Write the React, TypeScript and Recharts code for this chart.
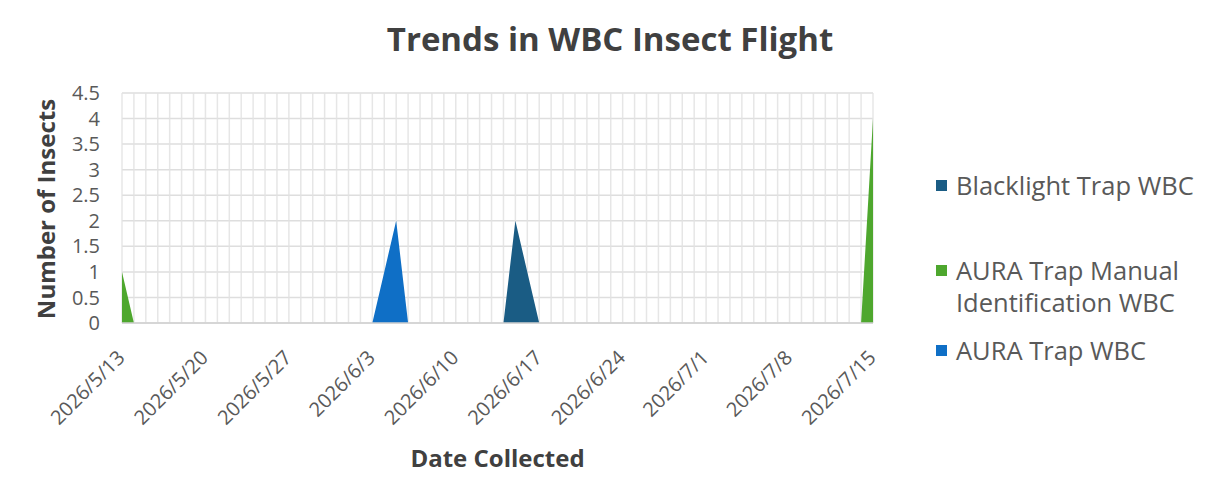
import React from "react";
import { AreaChart, Area, XAxis, YAxis, CartesianGrid, Legend, Label } from "recharts";

const FONT = '"Open Sans", sans-serif';

// one row per collection day, 2026/5/13 .. 2026/7/15
const dates = [
  "2026/5/13", "2026/5/14", "2026/5/15", "2026/5/16", "2026/5/17", "2026/5/18", "2026/5/19",
  "2026/5/20", "2026/5/21", "2026/5/22", "2026/5/23", "2026/5/24", "2026/5/25", "2026/5/26",
  "2026/5/27", "2026/5/28", "2026/5/29", "2026/5/30", "2026/5/31", "2026/6/1", "2026/6/2",
  "2026/6/3", "2026/6/4", "2026/6/5", "2026/6/6", "2026/6/7", "2026/6/8", "2026/6/9",
  "2026/6/10", "2026/6/11", "2026/6/12", "2026/6/13", "2026/6/14", "2026/6/15", "2026/6/16",
  "2026/6/17", "2026/6/18", "2026/6/19", "2026/6/20", "2026/6/21", "2026/6/22", "2026/6/23",
  "2026/6/24", "2026/6/25", "2026/6/26", "2026/6/27", "2026/6/28", "2026/6/29", "2026/6/30",
  "2026/7/1", "2026/7/2", "2026/7/3", "2026/7/4", "2026/7/5", "2026/7/6", "2026/7/7",
  "2026/7/8", "2026/7/9", "2026/7/10", "2026/7/11", "2026/7/12", "2026/7/13", "2026/7/14",
  "2026/7/15",
];

const blacklight = [
  0, 0, 0, 0, 0, 0, 0,
  0, 0, 0, 0, 0, 0, 0,
  0, 0, 0, 0, 0, 0, 0,
  0, 0, 0, 0, 0, 0, 0,
  0, 0, 0, 0, 0, 2, 1,
  0, 0, 0, 0, 0, 0, 0,
  0, 0, 0, 0, 0, 0, 0,
  0, 0, 0, 0, 0, 0, 0,
  0, 0, 0, 0, 0, 0, 0,
  0,
];

const auraManual = [
  1, 0, 0, 0, 0, 0, 0,
  0, 0, 0, 0, 0, 0, 0,
  0, 0, 0, 0, 0, 0, 0,
  0, 0, 0, 0, 0, 0, 0,
  0, 0, 0, 0, 0, 0, 0,
  0, 0, 0, 0, 0, 0, 0,
  0, 0, 0, 0, 0, 0, 0,
  0, 0, 0, 0, 0, 0, 0,
  0, 0, 0, 0, 0, 0, 0,
  4,
];

const auraTrap = [
  0, 0, 0, 0, 0, 0, 0,
  0, 0, 0, 0, 0, 0, 0,
  0, 0, 0, 0, 0, 0, 0,
  0, 1, 2, 0, 0, 0, 0,
  0, 0, 0, 0, 0, 0, 0,
  0, 0, 0, 0, 0, 0, 0,
  0, 0, 0, 0, 0, 0, 0,
  0, 0, 0, 0, 0, 0, 0,
  0, 0, 0, 0, 0, 0, 0,
  0,
];

const yTicks = [0, 0.5, 1, 1.5, 2, 2.5, 3, 3.5, 4, 4.5];

const seriesNames = ["Blacklight Trap WBC", "AURA Trap Manual Identification WBC", "AURA Trap WBC"];
const seriesColors = ["#1a5c84", "#4ea72e", "#0f6fc6"];

const data = dates.map((date, i) => ({
  date,
  blacklight: blacklight[i],
  auraManual: auraManual[i],
  auraTrap: auraTrap[i],
}));

// label only every 7th day
const DateTick = (props: any) => {
  const { x, y, payload, index } = props;
  if (index % 7 !== 0) return <g />;
  const ax = x + 4;
  const ay = y + 34;
  return (
    <text
      x={ax}
      y={ay}
      transform={`rotate(-45 ${ax} ${ay})`}
      textAnchor="end"
      fill="#595959"
      fontSize={20}
      fontFamily={FONT}
    >
      {payload.value}
    </text>
  );
};

const legendGaps = [0, 53, 16];

const renderLegend = () => (
  <div style={{ fontFamily: FONT, fontSize: 25.5, color: "#595959", lineHeight: "32px" }}>
    {seriesNames.map((name, i) => (
      <div key={name} style={{ display: "flex", alignItems: "flex-start", marginTop: legendGaps[i] }}>
        <span
          style={{
            display: "inline-block",
            width: 11,
            height: 11,
            background: seriesColors[i],
            marginTop: 11,
            marginRight: 9,
            flex: "none",
          }}
        />
        <span style={{ width: 255 }}>{name}</span>
      </div>
    ))}
  </div>
);

export default function App() {
  return (
    <div style={{ position: "absolute", left: 0, top: 0, width: 1225, height: 500, background: "#fff" }}>
      <div
        style={{
          position: "absolute",
          left: 0,
          top: 20,
          width: 1220,
          textAlign: "center",
          fontFamily: FONT,
          fontWeight: 700,
          fontSize: 33,
          lineHeight: "38px",
          color: "#404040",
        }}
      >
        Trends in WBC Insect Flight
      </div>
      <AreaChart
        width={1225}
        height={500}
        data={data}
        margin={{ top: 93, right: 352, bottom: 57, left: 32 }}
        style={{ fontFamily: FONT }}
      >
        <CartesianGrid vertical={false} stroke="#dedede" strokeWidth={1.5} />
        <XAxis
          dataKey="date"
          interval={0}
          height={120}
          tickLine={false}
          tickSize={0}
          axisLine={{ stroke: "#d0d0d0", strokeWidth: 1.5 }}
          tick={<DateTick />}
        >
          <Label
            content={(p: any) => {
              const vb = p.viewBox;
              return (
                <text
                  x={vb.x + vb.width / 2}
                  y={vb.y + 144}
                  textAnchor="middle"
                  fontFamily={FONT}
                  fontWeight={700}
                  fontSize={24}
                  fill="#404040"
                >
                  Date Collected
                </text>
              );
            }}
          />
        </XAxis>
        <YAxis
          width={90}
          domain={[0, 4.5]}
          ticks={yTicks}
          interval={0}
          tickLine={false}
          axisLine={false}
          tickSize={0}
          tickMargin={22}
          tick={{ fill: "#595959", fontSize: 20, fontFamily: FONT }}
        >
          <Label
            content={(p: any) => {
              const vb = p.viewBox;
              const cx = vb.x + 13;
              const cy = vb.y + vb.height / 2 + 1;
              return (
                <text
                  x={cx}
                  y={cy}
                  transform={`rotate(-90 ${cx} ${cy})`}
                  textAnchor="middle"
                  dominantBaseline="central"
                  fontFamily={FONT}
                  fontWeight={700}
                  fontSize={24}
                  fill="#404040"
                >
                  Number of Insects
                </text>
              );
            }}
          />
        </YAxis>
        <Area
          type="linear"
          dataKey="blacklight"
          name={seriesNames[0]}
          stroke="none"
          fill={seriesColors[0]}
          fillOpacity={1}
          dot={false}
          activeDot={false}
          isAnimationActive={false}
        />
        <Area
          type="linear"
          dataKey="auraManual"
          name={seriesNames[1]}
          stroke="none"
          fill={seriesColors[1]}
          fillOpacity={1}
          dot={false}
          activeDot={false}
          isAnimationActive={false}
        />
        <Area
          type="linear"
          dataKey="auraTrap"
          name={seriesNames[2]}
          stroke="none"
          fill={seriesColors[2]}
          fillOpacity={1}
          dot={false}
          activeDot={false}
          isAnimationActive={false}
        />
        <CartesianGrid horizontal={false} stroke="#e2e2e2" strokeOpacity={0.85} strokeWidth={1.5} />
        <Legend
          layout="vertical"
          align="center"
          verticalAlign="middle"
          content={renderLegend}
          wrapperStyle={{ left: 936, top: 169, right: "auto", bottom: "auto", width: 285 }}
        />
      </AreaChart>
    </div>
  );
}
